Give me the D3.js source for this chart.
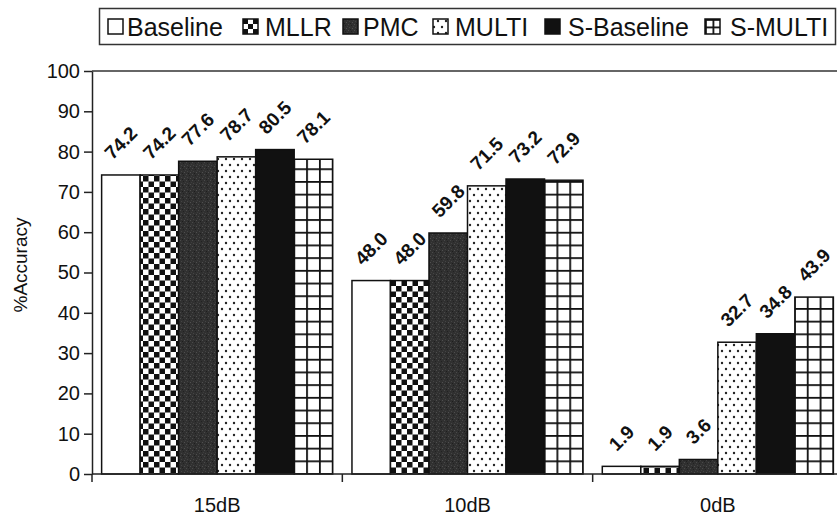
<!DOCTYPE html>
<html><head><meta charset="utf-8">
<script src="https://cdn.jsdelivr.net/npm/d3@7"></script>
<style>
body{margin:0;background:#fff}
svg{display:block}
text{font-family:Arial,"Liberation Sans",sans-serif;fill:#111}
</style>
</head><body>
<svg id="c" width="837" height="515"></svg>
<script>
// ---- data ----
const categories = ["15dB", "10dB", "0dB"];
const seriesNames = ["Baseline", "MLLR", "PMC", "MULTI", "S-Baseline", "S-MULTI"];
const baselineVals  = [74.2, 48.0, 1.9];
const mllrVals      = [74.2, 48.0, 1.9];
const pmcVals       = [77.6, 59.8, 3.6];
const multiVals     = [78.7, 71.5, 32.7];
const sBaselineVals = [80.5, 73.2, 34.8];
const sMultiVals    = [78.1, 72.9, 43.9];
const yTicks = [0, 10, 20, 30, 40, 50, 60, 70, 80, 90, 100];
const yTitle = "%Accuracy";

const seriesValues = [baselineVals, mllrVals, pmcVals, multiVals, sBaselineVals, sMultiVals];

// ---- layout ----
const svg = d3.select("#c");
const x0 = d3.scaleBand().domain(categories).range([92, 843]).paddingInner(0).paddingOuter(0);
const x1 = d3.scaleBand().domain(seriesNames).range([0, x0.bandwidth()]).paddingInner(0).paddingOuter(0.25);
const y = d3.scaleLinear().domain([0, 100]).range([474, 71]);

const defs = svg.append("defs");
// checkerboard
const cs = 5.5;
const chk = defs.append("pattern").attr("id", "checker").attr("patternUnits", "userSpaceOnUse")
  .attr("width", cs * 2).attr("height", cs * 2);
chk.append("rect").attr("width", cs * 2).attr("height", cs * 2).attr("fill", "#fff");
chk.append("rect").attr("width", cs).attr("height", cs).attr("fill", "#111");
chk.append("rect").attr("x", cs).attr("y", cs).attr("width", cs).attr("height", cs).attr("fill", "#111");
// PMC dark grey texture
const pmc = defs.append("pattern").attr("id", "pmc").attr("patternUnits", "userSpaceOnUse")
  .attr("width", 6).attr("height", 6);
pmc.append("rect").attr("width", 6).attr("height", 6).attr("fill", "#303030");
[[0,0,"#4a4a4a"],[3,1,"#222"],[1,3,"#444"],[4,4,"#4f4f4f"],[2,5,"#1e1e1e"],[5,2,"#3e3e3e"]]
  .forEach(([a,b,c]) => pmc.append("rect").attr("x", a).attr("y", b).attr("width", 1).attr("height", 1).attr("fill", c));
// dots
const dots = defs.append("pattern").attr("id", "dots").attr("patternUnits", "userSpaceOnUse")
  .attr("width", 8).attr("height", 12);
dots.append("rect").attr("width", 8).attr("height", 12).attr("fill", "#fff");
dots.append("circle").attr("cx", 2).attr("cy", 3).attr("r", 1.2).attr("fill", "#222");
dots.append("circle").attr("cx", 6).attr("cy", 9).attr("r", 1.2).attr("fill", "#222");

function gridPattern(id, px, py, w, h) {
  const p = defs.append("pattern").attr("id", id).attr("patternUnits", "userSpaceOnUse")
    .attr("x", px).attr("y", py).attr("width", w).attr("height", h);
  p.append("rect").attr("width", w).attr("height", h).attr("fill", "#fff");
  p.append("rect").attr("x", 0).attr("y", 0).attr("width", 1.8).attr("height", h).attr("fill", "#111");
  p.append("rect").attr("x", 0).attr("y", 0).attr("width", w).attr("height", 1.8).attr("fill", "#111");
}

function fillFor(j, barX, bw, key) {
  switch (j) {
    case 0: return "#fff";
    case 1: return "url(#checker)";
    case 2: return "url(#pmc)";
    case 3: return "url(#dots)";
    case 4: return "#111";
    default: {
      const id = "grid-" + key;
      gridPattern(id, barX - 0.9, y(0) - 0.9, bw / 3, 12.7);
      return "url(#" + id + ")";
    }
  }
}

// ---- bars ----
const bw = x1.bandwidth();
const barsG = svg.append("g");
const labelsG = svg.append("g");
categories.forEach((c, i) => {
  seriesNames.forEach((s, j) => {
    const v = seriesValues[j][i];
    const bx = x0(c) + x1(s);
    barsG.append("rect")
      .attr("x", bx).attr("y", y(v))
      .attr("width", bw).attr("height", y(0) - y(v))
      .attr("fill", fillFor(j, bx, bw, i + "-" + j))
      .attr("stroke", "#111").attr("stroke-width", 1.5);
    // rotated value label
    const t = labelsG.append("text")
      .attr("font-size", 19).attr("font-weight", "bold")
      .attr("text-anchor", "middle").attr("dominant-baseline", "central")
      .text(v.toFixed(1));
    const L = t.node().getComputedTextLength();
    const hgt = 14;
    const boxH = (L + hgt) * Math.SQRT1_2;
    const cx = bx + bw / 2;
    const cy = y(v) - 14 - boxH / 2;
    t.attr("transform", `translate(${cx},${cy}) rotate(-45)`);
  });
});

// ---- axes ----
const axisColor = "#222";
// plot top border
svg.append("line").attr("x1", 92).attr("x2", 837).attr("y1", y(100)).attr("y2", y(100))
  .attr("stroke", "#333").attr("stroke-width", 1.3);

const yAxis = svg.append("g").attr("transform", "translate(92,0)")
  .call(d3.axisLeft(y).tickValues(yTicks).tickSize(8).tickSizeOuter(0).tickPadding(4));
yAxis.selectAll("path,line").attr("stroke", axisColor).attr("stroke-width", 1.5);
yAxis.selectAll("text").attr("font-size", 20).attr("fill", "#111")
  .attr("font-family", "Arial, 'Liberation Sans', sans-serif");

// x axis baseline
svg.append("line").attr("x1", 92).attr("x2", 837).attr("y1", y(0)).attr("y2", y(0))
  .attr("stroke", axisColor).attr("stroke-width", 1.5);
// category boundary ticks
categories.forEach(c => {
  svg.append("line").attr("x1", x0(c)).attr("x2", x0(c)).attr("y1", y(0)).attr("y2", y(0) + 8)
    .attr("stroke", axisColor).attr("stroke-width", 1.5);
  svg.append("text").attr("x", x0(c) + x0.bandwidth() / 2).attr("y", 512)
    .attr("text-anchor", "middle").attr("font-size", 20).text(c);
});

// y title
svg.append("text").attr("transform", "translate(27,265) rotate(-90)")
  .attr("text-anchor", "middle").attr("font-size", 19).text(yTitle);

// ---- legend ----
const legIconX = [108, 243, 343, 433, 545, 705];
const legTextX = [127, 265, 363, 455, 568, 730];
const leg = svg.append("g");
leg.append("rect").attr("x", 99.5).attr("y", 8.5).attr("width", 736).attr("height", 36)
  .attr("fill", "none").attr("stroke", "#333").attr("stroke-width", 1.5);
seriesNames.forEach((s, j) => {
  let f;
  if (j === 5) { gridPattern("leg-grid", legIconX[j], 19, 7.5, 7.5); f = "url(#leg-grid)"; }
  else if (j === 1) {
    const lc = defs.append("pattern").attr("id", "leg-chk").attr("patternUnits", "userSpaceOnUse")
      .attr("x", legIconX[j]).attr("y", 19).attr("width", 10).attr("height", 10);
    lc.append("rect").attr("width", 10).attr("height", 10).attr("fill", "#fff");
    lc.append("rect").attr("width", 5).attr("height", 5).attr("fill", "#111");
    lc.append("rect").attr("x", 5).attr("y", 5).attr("width", 5).attr("height", 5).attr("fill", "#111");
    f = "url(#leg-chk)";
  }
  else f = fillFor(j, legIconX[j], 15, "leg" + j);
  leg.append("rect").attr("x", legIconX[j]).attr("y", 19).attr("width", 15).attr("height", 15)
    .attr("fill", f).attr("stroke", "#111").attr("stroke-width", 1.5);
  leg.append("text").attr("x", legTextX[j]).attr("y", 36).attr("font-size", 25).text(s);
});
</script>
</body></html>
